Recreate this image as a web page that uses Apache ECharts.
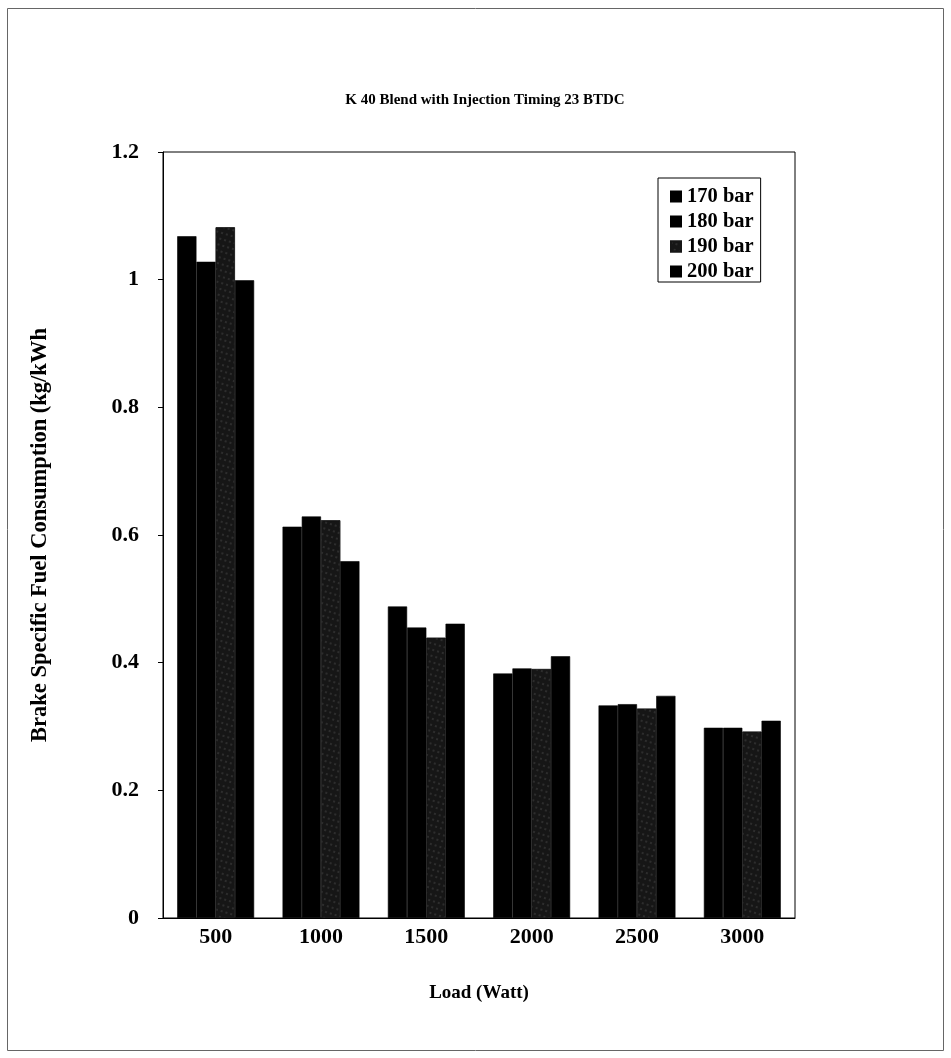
<!DOCTYPE html>
<html>
<head>
<meta charset="utf-8">
<script src="https://cdn.jsdelivr.net/npm/echarts@6/dist/echarts.min.js"></script>
<style>
html,body{margin:0;padding:0;background:#fff;}
#chart{width:951px;height:1058px;}
</style>
</head>
<body>
<div id="chart"></div>
<script>
const categories = ['500', '1000', '1500', '2000', '2500', '3000'];
const seriesNames = ['170 bar', '180 bar', '190 bar', '200 bar'];
const bar170 = [1.068, 0.613, 0.488, 0.383, 0.333, 0.298];
const bar180 = [1.028, 0.629, 0.455, 0.391, 0.335, 0.298];
const bar190 = [1.082, 0.623, 0.439, 0.390, 0.328, 0.292];
const bar200 = [0.999, 0.559, 0.461, 0.410, 0.348, 0.309];
const yTicks = [0, 0.2, 0.4, 0.6, 0.8, 1, 1.2];

const FONT = '"Liberation Serif", "Times New Roman", serif';
const seriesData = [bar170, bar180, bar190, bar200];
const colors = ['#000000', '#000000', '#161616', '#000000'];

const chart = echarts.init(document.getElementById('chart'), null, {renderer: 'canvas'});
chart.setOption({
  backgroundColor: '#ffffff',
  animation: false,
  title: {
    text: 'K 40 Blend with Injection Timing 23 BTDC',
    left: 480, top: 88, textAlign: 'center',
    textStyle: {fontFamily: FONT, fontWeight: 'bold', fontSize: 15, color: '#000'}
  },
  legend: {
    orient: 'vertical',
    left: 658, top: 178,
    padding: [8, 7, 0, 12],
    itemGap: 4,
    itemWidth: 10, itemHeight: 10,
    icon: 'rect',
    borderColor: '#000', borderWidth: 1,
    backgroundColor: '#fff',
    data: seriesNames,
    textStyle: {fontFamily: FONT, fontWeight: 'bold', fontSize: 20.5, lineHeight: 21, color: '#000', padding: [0,0,0,1]}
  },
  grid: {
    left: 163, right: 156, top: 152, bottom: 140,
    show: true, borderColor: '#000', borderWidth: 1, backgroundColor: 'transparent'
  },
  xAxis: {
    type: 'category',
    data: categories,
    name: 'Load (Watt)',
    nameLocation: 'middle',
    nameGap: 66,
    nameTextStyle: {fontFamily: FONT, fontWeight: 'bold', fontSize: 19, color: '#000'},
    axisLine: {lineStyle: {color: '#000', width: 1}},
    axisTick: {show: false},
    axisLabel: {fontFamily: FONT, fontWeight: 'bold', fontSize: 22, color: '#000', margin: 8}
  },
  yAxis: {
    type: 'value',
    min: 0, max: 1.2, interval: 0.2,
    name: 'Brake Specific Fuel Consumption (kg/kWh',
    nameLocation: 'middle',
    nameGap: 111,
    nameTextStyle: {fontFamily: FONT, fontWeight: 'bold', fontSize: 22.5, color: '#000'},
    axisLine: {show: true, lineStyle: {color: '#000', width: 1}},
    axisTick: {show: true, inside: false, length: 5, lineStyle: {color: '#000'}},
    splitLine: {show: false},
    axisLabel: {
      fontFamily: FONT, fontWeight: 'bold', fontSize: 22, color: '#000', margin: 24,
      formatter: function (v) {
        const t = yTicks.find(x => Math.abs(x - v) < 1e-9);
        return t === undefined ? '' : String(t);
      }
    }
  },
  series: seriesNames.map((name, i) => ({
    name: name,
    type: 'bar',
    data: seriesData[i],
    barGap: '0%',
    barCategoryGap: '27%',
    itemStyle: i === 2 ? {
      color: colors[i],
      borderColor: colors[i],
      borderWidth: 0.6,
      decal: {
        symbol: 'rect',
        symbolSize: 0.5,
        color: 'rgba(210,210,210,0.5)',
        dashArrayX: [2, 3],
        dashArrayY: [2, 4],
        rotation: 0.3
      }
    } : {color: colors[i], borderColor: colors[i], borderWidth: 0.6}
  })),
  graphic: [{
    type: 'rect',
    shape: {x: 7.5, y: 8.5, width: 936, height: 1042},
    style: {fill: 'none', stroke: '#666', lineWidth: 1},
    silent: true
  }]
});
</script>
</body>
</html>
